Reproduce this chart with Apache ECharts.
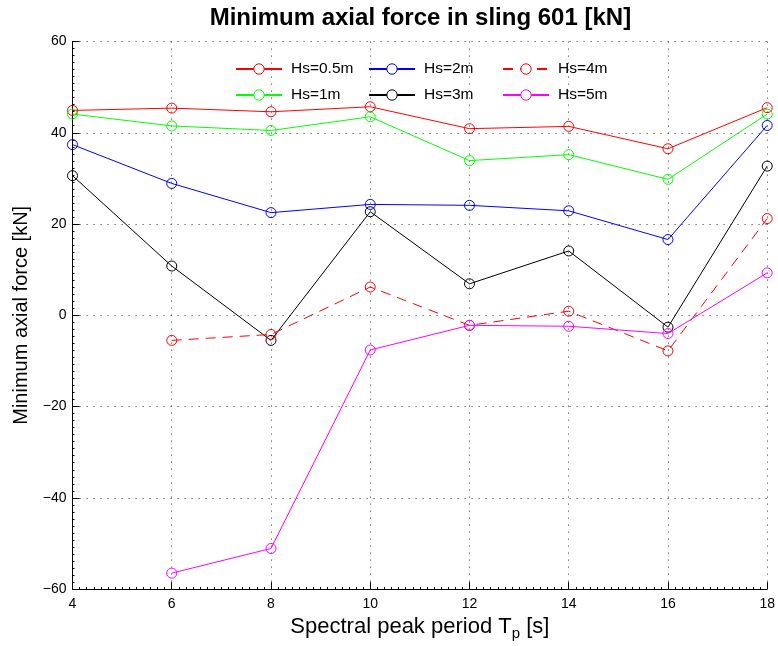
<!DOCTYPE html>
<html>
<head>
<meta charset="utf-8">
<title>Minimum axial force in sling 601</title>
<script src="https://cdn.jsdelivr.net/npm/echarts@6/dist/echarts.min.js"></script>
<style>
  html, body { margin: 0; padding: 0; background: #fff; }
  #chart { width: 778px; height: 646px; }
</style>
</head>
<body>
<div id="chart"></div>
<script>
// Spectral peak periods Tp [s]
const tp = [4, 6, 8, 10, 12, 14, 16, 18];

// Minimum axial force [kN] for each significant wave height
const hs05 = [44.9, 45.4, 44.6, 45.7, 40.9, 41.4, 36.5, 45.5];
const hs1  = [44.1, 41.5, 40.5, 43.5, 33.9, 35.2, 29.8, 44.1];
const hs2  = [37.4, 28.9, 22.5, 24.3, 24.1, 22.9, 16.6, 41.6];
const hs3  = [30.6, 10.8, -5.5, 22.7, 6.9, 14.1, -2.6, 32.7];
const hs4  = [null, -5.5, -4.2, 6.2, -2.2, 0.9, -7.8, 21.2];
const hs5  = [null, -56.5, -51.1, -7.6, -2.2, -2.4, -4.0, 9.3];

const seriesNames = ['Hs=0.5m', 'Hs=1m', 'Hs=2m', 'Hs=3m', 'Hs=4m', 'Hs=5m'];
const seriesValues = [hs05, hs1, hs2, hs3, hs4, hs5];
const seriesColors = ['#ff0000', '#00ff00', '#0000ff', '#000000', '#ff0000', '#ff00ff'];
const seriesDashed = [false, false, false, false, true, false];

const FONT = '"Liberation Sans", Arial, Helvetica, sans-serif';

// Plot box in pixels (left edge, right margin, top, bottom margin)
const GRID = { left: 72.5, right: 9.7, top: 41.5, bottom: 56 };
const CHART_W = 778;
const plotCenterX = GRID.left + (CHART_W - GRID.left - GRID.right) / 2;

function pairs(values) {
  const out = [];
  values.forEach((v, i) => { if (v !== null) out.push([tp[i], v]); });
  return out;
}

const series = seriesNames.map((name, i) => ({
  name: name,
  type: 'line',
  data: pairs(seriesValues[i]),
  symbol: 'circle',
  symbolSize: 10,
  showSymbol: true,
  itemStyle: { color: 'rgba(0,0,0,0)', borderColor: seriesColors[i], borderWidth: 1 },
  lineStyle: {
    color: seriesColors[i],
    width: 1,
    type: seriesDashed[i] ? [10, 7] : 'solid'
  },
  emphasis: { disabled: true },
  z: 3 + i
}));

function legendItem(i) {
  return {
    name: seriesNames[i],
    itemStyle: { color: '#ffffff', borderColor: seriesColors[i], borderWidth: 1 }
  };
}

function makeLegend(left, idxA, idxB) {
  return {
    orient: 'vertical',
    left: left,
    top: 61,
    padding: 0,
    itemWidth: 46,
    itemHeight: 13,
    itemGap: 10,
    selectedMode: false,
    textStyle: { fontFamily: FONT, fontSize: 15.5, color: '#000', padding: [0, 0, 0, 4] },
    data: [legendItem(idxA), legendItem(idxB)]
  };
}

const minusFmt = v => String(v).replace('-', '\u2212');

const option = {
  animation: false,
  backgroundColor: '#ffffff',
  graphic: [{
    type: 'text',
    x: plotCenterX,
    y: 18,
    style: {
      text: 'Minimum axial force in sling 601 [kN]',
      x: 0, y: 0,
      align: 'center',
      verticalAlign: 'middle',
      font: 'bold 24px ' + FONT,
      fill: '#000'
    }
  }],
  legend: [
    makeLegend(235, 0, 1),
    makeLegend(368, 2, 3),
    makeLegend(502, 4, 5)
  ],
  grid: { left: GRID.left, right: GRID.right, top: GRID.top, bottom: GRID.bottom, containLabel: false },
  xAxis: {
    type: 'value',
    min: 4,
    max: 18,
    interval: 2,
    name: 'Spectral peak period T{sub|p} [s]',
    nameLocation: 'middle',
    nameGap: 7,
    nameTextStyle: {
      fontFamily: FONT, fontSize: 22, color: '#000',
      rich: { sub: { fontFamily: FONT, fontSize: 15, color: '#000', padding: [13, 0, 0, 0] } }
    },
    axisLine: { show: true, onZero: false, lineStyle: { color: '#000', width: 1 } },
    axisTick: { show: true, inside: true, length: 7, lineStyle: { color: '#000' } },
    minorTick: { show: true, splitNumber: 14, length: 2, lineStyle: { color: '#000' } },
    axisLabel: { fontFamily: FONT, fontSize: 14, color: '#000', margin: 8, formatter: minusFmt },
    splitLine: { show: true, lineStyle: { color: '#555', width: 1, type: [1.2, 5.8] } }
  },
  yAxis: {
    type: 'value',
    min: -60,
    max: 60,
    interval: 20,
    name: 'Minimum axial force [kN]',
    nameLocation: 'middle',
    nameGap: 33,
    nameTextStyle: { fontFamily: FONT, fontSize: 20, color: '#000' },
    axisLine: { show: true, onZero: false, lineStyle: { color: '#000', width: 1 } },
    axisTick: { show: true, inside: true, length: 7, lineStyle: { color: '#000' } },
    minorTick: { show: true, splitNumber: 13, length: 2, lineStyle: { color: '#000' } },
    axisLabel: { fontFamily: FONT, fontSize: 14, color: '#000', margin: 6, formatter: minusFmt },
    splitLine: { show: true, lineStyle: { color: '#555', width: 1, type: [1.2, 5.8] } }
  },
  series: series
};

const chart = echarts.init(document.getElementById('chart'), null, { renderer: 'canvas' });
chart.setOption(option);
</script>
</body>
</html>
